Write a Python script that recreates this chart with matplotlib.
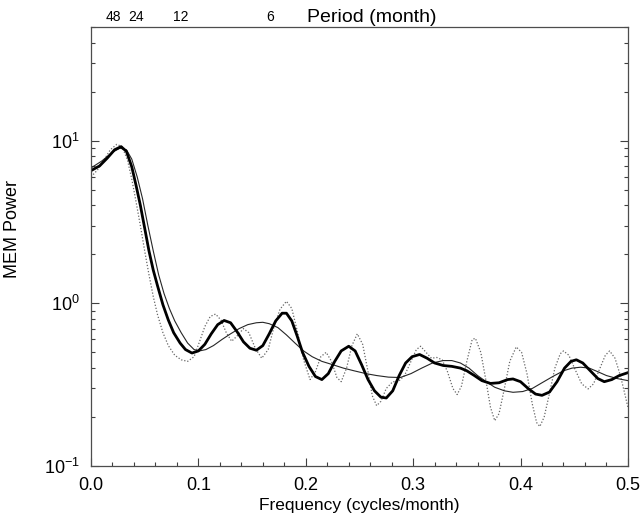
import matplotlib
matplotlib.use("Agg")
import matplotlib.pyplot as plt
from matplotlib.ticker import MultipleLocator, LogLocator, NullFormatter
import numpy as np

plt.rcParams["font.family"] = ["Liberation Sans", "DejaVu Sans"]
plt.rcParams["mathtext.default"] = "regular"

# MEM spectrum, high-order fit (thick)
freq_thick = [0.000, 0.008, 0.015, 0.022, 0.028, 0.033, 0.038, 0.042, 0.046, 0.050,
              0.054, 0.058, 0.062, 0.067, 0.072, 0.077, 0.083, 0.088, 0.094, 0.100,
              0.106, 0.112, 0.118, 0.124, 0.130, 0.136, 0.142, 0.148, 0.154, 0.160,
              0.166, 0.172, 0.178, 0.182, 0.187, 0.192, 0.197, 0.203, 0.209, 0.215,
              0.221, 0.227, 0.233, 0.240, 0.246, 0.252, 0.258, 0.264, 0.270, 0.275,
              0.281, 0.287, 0.293, 0.299, 0.306, 0.313, 0.320, 0.328, 0.336, 0.344,
              0.350, 0.357, 0.364, 0.372, 0.380, 0.388, 0.393, 0.400, 0.407, 0.414,
              0.420, 0.427, 0.434, 0.441, 0.447, 0.452, 0.458, 0.465, 0.472, 0.478,
              0.485, 0.492, 0.500]
power_thick = [6.55, 7.0, 7.8, 8.8, 9.2, 8.6, 6.9, 5.3, 4.0, 2.9,
               2.1, 1.6, 1.28, 0.98, 0.79, 0.66, 0.57, 0.52, 0.495, 0.51,
               0.56, 0.65, 0.74, 0.785, 0.76, 0.67, 0.58, 0.53, 0.515, 0.55,
               0.65, 0.78, 0.87, 0.87, 0.78, 0.63, 0.50, 0.41, 0.355, 0.34,
               0.37, 0.44, 0.51, 0.545, 0.51, 0.42, 0.34, 0.29, 0.265, 0.262,
               0.29, 0.36, 0.43, 0.47, 0.485, 0.46, 0.43, 0.415, 0.41, 0.40,
               0.385, 0.36, 0.335, 0.322, 0.325, 0.34, 0.343, 0.33, 0.30, 0.277,
               0.272, 0.285, 0.33, 0.40, 0.44, 0.45, 0.43, 0.385, 0.345, 0.33,
               0.34, 0.36, 0.375]

# low-order fit (thin solid)
freq_thin = [0.000, 0.010, 0.020, 0.027, 0.033, 0.038, 0.043, 0.048, 0.053, 0.058,
             0.063, 0.068, 0.073, 0.078, 0.084, 0.090, 0.096, 0.101, 0.107, 0.114,
             0.122, 0.130, 0.138, 0.146, 0.154, 0.160, 0.166, 0.174, 0.182, 0.190,
             0.198, 0.206, 0.215, 0.225, 0.235, 0.245, 0.256, 0.266, 0.277, 0.288,
             0.298, 0.308, 0.318, 0.328, 0.336, 0.344, 0.352, 0.360, 0.368, 0.376,
             0.385, 0.393, 0.402, 0.411, 0.420, 0.430, 0.440, 0.448, 0.456, 0.464,
             0.472, 0.480, 0.490, 0.500]
power_thin = [6.8, 7.5, 8.5, 9.0, 8.8, 7.7, 6.0, 4.4, 3.0, 2.1,
              1.5, 1.15, 0.93, 0.78, 0.66, 0.57, 0.52, 0.51, 0.52, 0.55,
              0.60, 0.65, 0.70, 0.74, 0.76, 0.765, 0.75, 0.71, 0.64, 0.57,
              0.51, 0.47, 0.44, 0.42, 0.40, 0.385, 0.37, 0.36, 0.352, 0.35,
              0.37, 0.40, 0.43, 0.445, 0.445, 0.43, 0.40, 0.36, 0.33, 0.305,
              0.29, 0.284, 0.287, 0.30, 0.325, 0.355, 0.385, 0.40, 0.405, 0.40,
              0.38, 0.36, 0.345, 0.335]

# very high-order fit (dotted)
freq_dot = [0.000, 0.006, 0.012, 0.018, 0.024, 0.029, 0.034, 0.038, 0.042, 0.046,
            0.050, 0.054, 0.058, 0.062, 0.067, 0.072, 0.078, 0.084, 0.090, 0.096,
            0.101, 0.106, 0.111, 0.116, 0.121, 0.126, 0.131, 0.136, 0.142, 0.147,
            0.153, 0.159, 0.165, 0.170, 0.176, 0.182, 0.187, 0.192, 0.198, 0.204,
            0.209, 0.214, 0.219, 0.224, 0.229, 0.233, 0.238, 0.243, 0.248, 0.253,
            0.258, 0.262, 0.266, 0.270, 0.275, 0.281, 0.286, 0.292, 0.298, 0.303,
            0.307, 0.312, 0.317, 0.322, 0.327, 0.332, 0.337, 0.341, 0.345, 0.350,
            0.355, 0.358, 0.363, 0.368, 0.372, 0.376, 0.380, 0.385, 0.390, 0.396,
            0.401, 0.406, 0.411, 0.415, 0.418, 0.422, 0.427, 0.432, 0.437, 0.440,
            0.445, 0.451, 0.457, 0.463, 0.468, 0.474, 0.479, 0.483, 0.488, 0.493,
            0.497, 0.500]
power_dot = [6.0, 6.6, 7.6, 8.8, 9.5, 9.2, 7.6, 5.8, 4.2, 3.0,
             2.1, 1.5, 1.1, 0.85, 0.66, 0.55, 0.48, 0.45, 0.44, 0.47,
             0.58, 0.72, 0.83, 0.86, 0.79, 0.66, 0.585, 0.63, 0.70, 0.66,
             0.53, 0.46, 0.52, 0.70, 0.92, 1.03, 0.93, 0.68, 0.45, 0.34,
             0.38, 0.47, 0.50, 0.44, 0.35, 0.33, 0.40, 0.55, 0.65, 0.56,
             0.38, 0.27, 0.235, 0.25, 0.30, 0.33, 0.33, 0.36, 0.44, 0.52,
             0.545, 0.50, 0.46, 0.465, 0.45, 0.38, 0.30, 0.275, 0.31, 0.44,
             0.60, 0.61, 0.50, 0.33, 0.23, 0.19, 0.21, 0.30, 0.44, 0.54,
             0.50, 0.37, 0.24, 0.185, 0.175, 0.20, 0.28, 0.40, 0.49, 0.51,
             0.48, 0.39, 0.32, 0.298, 0.32, 0.40, 0.48, 0.51, 0.46, 0.36,
             0.28, 0.23]

period_ticks = [48, 24, 12, 6]

fig = plt.figure(figsize=(6.44, 5.2), dpi=100)
ax = fig.add_axes([0.1413, 0.1038, 0.8337, 0.8442])

ax.plot(freq_dot, power_dot, color="0.4", lw=0.9, ls=(0, (1, 1.5)))
ax.plot(freq_thin, power_thin, color="0.15", lw=0.8)
ax.plot(freq_thick, power_thick, color="black", lw=2.0)

ax.set_yscale("log")
ax.set_xlim(0, 0.5)
ax.set_ylim(0.1, 50)
ax.xaxis.set_major_locator(MultipleLocator(0.1))
ax.xaxis.set_minor_locator(MultipleLocator(0.02))
ax.xaxis.set_major_formatter(lambda v, pos: f"{v:.1f}")
ax.yaxis.set_major_locator(LogLocator(base=10, numticks=5))
ax.yaxis.set_minor_locator(LogLocator(base=10, subs=np.arange(2, 10), numticks=20))
ax.yaxis.set_minor_formatter(NullFormatter())

ax.tick_params(which="both", direction="in", top=True, right=True,
               labelsize=13, width=0.8, color="0.25")
ax.tick_params(which="major", length=6, pad=8)
ax.tick_params(which="minor", length=3)
for s in ax.spines.values():
    s.set_linewidth(0.9)
    s.set_color("0.3")

ax.set_xlabel("Frequency (cycles/month)", fontsize=12.5, labelpad=3)
ax.set_ylabel("MEM Power", fontsize=13)
ax.yaxis.set_label_coords(-0.13, 0.54)

# period axis along the top
top = ax.twiny()
top.set_xlim(ax.get_xlim())
top.set_xticks([1.0 / p for p in period_ticks])
top.set_xticklabels([str(p) for p in period_ticks])
top.tick_params(axis="x", length=0, pad=2, labelsize=10)
for s in top.spines.values():
    s.set_visible(False)
fig.text(307 / 644, 1 - 18 / 520, "Period (month)", fontsize=14,
         ha="left", va="center")

fig.savefig("out.png", dpi=100)
